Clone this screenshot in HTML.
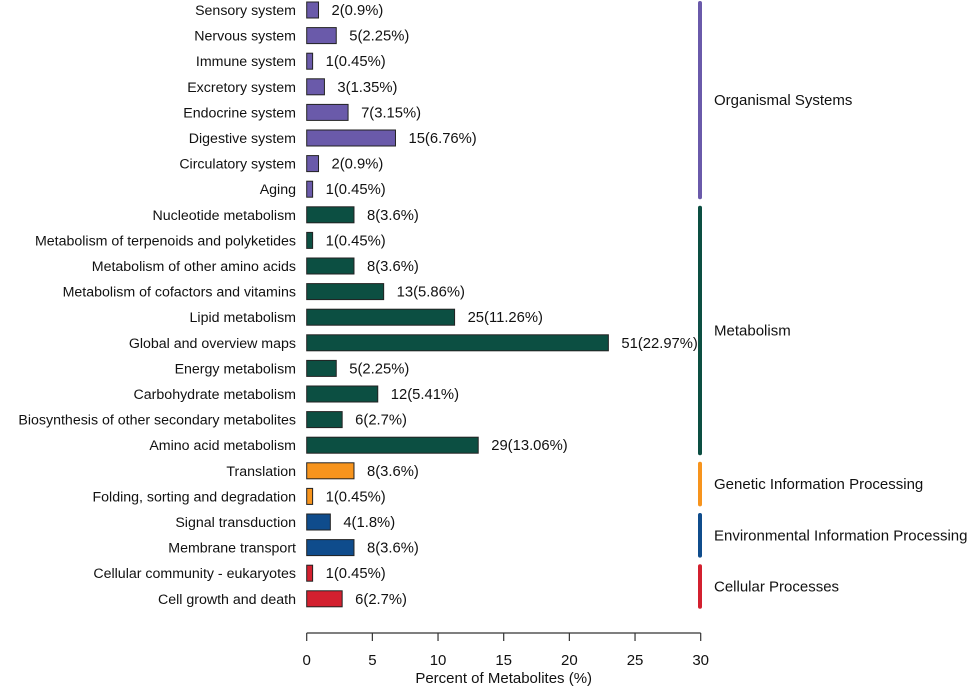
<!DOCTYPE html>
<html><head><meta charset="utf-8"><style>
body{margin:0;background:#fff}
svg{display:block;font-family:"Liberation Sans",sans-serif}
</style></head><body>
<svg id="chart" width="969" height="688"></svg>
<script>
const categories=["Sensory system","Nervous system","Immune system","Excretory system","Endocrine system","Digestive system","Circulatory system","Aging","Nucleotide metabolism","Metabolism of terpenoids and polyketides","Metabolism of other amino acids","Metabolism of cofactors and vitamins","Lipid metabolism","Global and overview maps","Energy metabolism","Carbohydrate metabolism","Biosynthesis of other secondary metabolites","Amino acid metabolism","Translation","Folding, sorting and degradation","Signal transduction","Membrane transport","Cellular community - eukaryotes","Cell growth and death"];
const counts=[2,5,1,3,7,15,2,1,8,1,8,13,25,51,5,12,6,29,8,1,4,8,1,6];
const percents=[0.9,2.25,0.45,1.35,3.15,6.76,0.9,0.45,3.6,0.45,3.6,5.86,11.26,22.97,2.25,5.41,2.7,13.06,3.6,0.45,1.8,3.6,0.45,2.7];
const groupNames=["Organismal Systems","Metabolism","Genetic Information Processing","Environmental Information Processing","Cellular Processes"];
const groupSizes=[8,10,2,2,2];
const groupColors=["#6a5aaa","#0c4f42","#f7941d","#0f4c8c","#d3202f"];
const ticks=[0,5,10,15,20,25,30];

const NS="http://www.w3.org/2000/svg";
const svg=document.getElementById('chart');
const x0=306.7,x1=700.7,xmax=30;
const X=v=>x0+v/xmax*(x1-x0);
const rowH=25.6,y0=10;
const Y=i=>y0+i*rowH;
function mk(t,a){const e=document.createElementNS(NS,t);for(const k in a)e.setAttribute(k,a[k]);svg.appendChild(e);return e;}
const rowGroup=[];
groupSizes.forEach((n,g)=>{for(let i=0;i<n;i++)rowGroup.push(g);});
categories.forEach((c,i)=>{
  const col=groupColors[rowGroup[i]];
  const l=mk('text',{x:296,y:Y(i)+5,'text-anchor':'end','font-size':14.2,fill:'#111'});l.textContent=c;
  
  
  const r=mk('rect',{x:X(0),y:Y(i)-8,width:X(percents[i])-X(0),height:16,fill:col,stroke:'#222','stroke-width':1});
  
  
  const v=mk('text',{x:X(percents[i])+13,y:Y(i)+5,'font-size':14.8,fill:'#111'});v.textContent=counts[i]+'('+percents[i]+'%)';
  
  
});
let s=0;
groupSizes.forEach((n,g)=>{
  const top=Y(s)-7,bot=Y(s+n-1)+8;
  const ln=mk('line',{x1:700,x2:700,y1:top,y2:bot,stroke:groupColors[g],'stroke-width':4,'stroke-linecap':'round'});
  
  
  const t=mk('text',{x:714,y:(top+bot)/2+5,'font-size':15,fill:'#111'});t.textContent=groupNames[g];
  
  
  s+=n;
});
const ax=mk('line',{x1:X(0),x2:X(30),y1:633,y2:633,stroke:'#333','stroke-width':1.2});


ticks.forEach(t=>{
  const tk=mk('line',{x1:X(t),x2:X(t),y1:633,y2:641,stroke:'#333','stroke-width':1.2});
  
  
  const tl=mk('text',{x:X(t),y:665,'text-anchor':'middle','font-size':15,fill:'#111'});tl.textContent=t;
  
  
});
const tt=mk('text',{x:X(15),y:683,'text-anchor':'middle','font-size':15,fill:'#111'});tt.textContent='Percent of Metabolites (%)';


</script>
</body></html>
